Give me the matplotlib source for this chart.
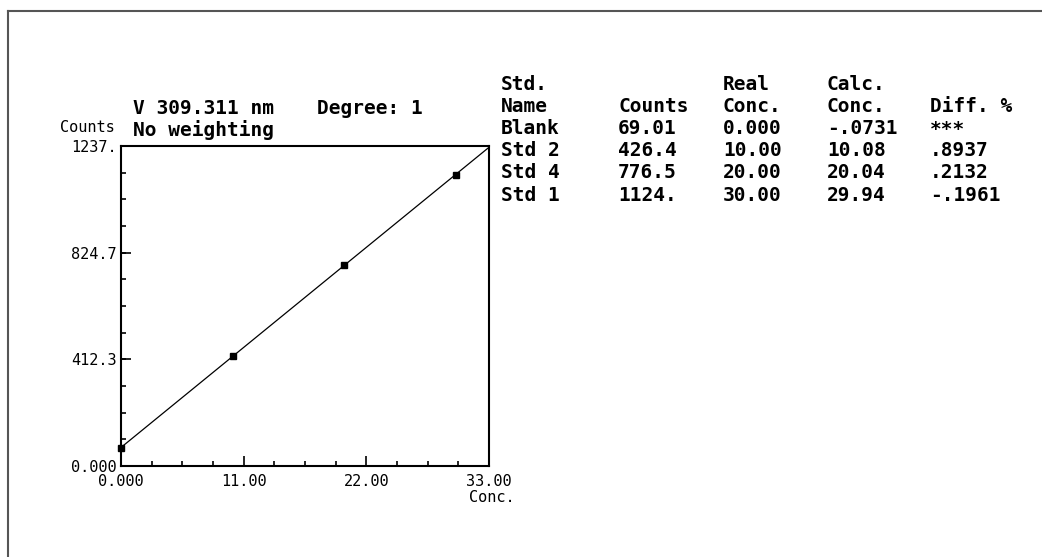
import matplotlib
matplotlib.use("Agg")
import matplotlib.pyplot as plt
from matplotlib.lines import Line2D
from matplotlib.ticker import MultipleLocator

# calibration standards
std_names = ["Blank", "Std 2", "Std 4", "Std 1"]
counts = [69.01, 426.4, 776.5, 1124.0]
real_conc = [0.0, 10.00, 20.00, 30.00]
calc_conc = [-0.0731, 10.08, 20.04, 29.94]
diff_pct = [None, 0.8937, 0.2132, -0.1961]

# fitted calibration line
fit_conc = [0.0, 33.0]
fit_counts = [71.6, 1232.0]

x_ticks = [0.0, 11.0, 22.0, 33.0]
y_ticks = [0.0, 412.3, 824.7, 1237.0]

W, H = 1042, 557
BIG = dict(family="DejaVu Sans Mono", fontweight="bold", fontsize=14)
SMALL = dict(family="DejaVu Sans Mono", fontsize=11)


def fmt4(v):
    """4 significant digits, instrument style"""
    if v is None:
        return "***"
    if v == 0:
        return "0.000"
    a = abs(v)
    if a >= 1000:
        s = f"{a:.0f}."
    elif a >= 100:
        s = f"{a:.1f}"
    elif a >= 10:
        s = f"{a:.2f}"
    elif a >= 1:
        s = f"{a:.3f}"
    else:
        s = f"{a:.4f}"[1:]
    return ("-" if v < 0 else "") + s


def px(x, y):
    return x / W, 1 - y / H


fig = plt.figure(figsize=(W / 100, H / 100), dpi=100)

# outer frame (top and left edge)
fig.add_artist(Line2D([8 / W, 8 / W], [0, 1 - 11 / H], transform=fig.transFigure,
                      color="#555555", lw=1.5))
fig.add_artist(Line2D([8 / W, 1], [1 - 11 / H, 1 - 11 / H], transform=fig.transFigure,
                      color="#555555", lw=1.5))

ax = fig.add_axes([121 / W, (H - 466) / H, 368 / W, 320 / H])
ax.plot(fit_conc, fit_counts, color="black", lw=0.9, clip_on=True)
ax.plot(real_conc, counts, "s", color="black", markersize=4.5, clip_on=False)

ax.set_xlim(x_ticks[0], x_ticks[-1])
ax.set_ylim(y_ticks[0], y_ticks[-1])
ax.set_xticks(x_ticks)
ax.set_xticklabels([fmt4(v) for v in x_ticks], **SMALL)
ax.set_yticks(y_ticks)
ax.set_yticklabels([fmt4(v) for v in y_ticks], **SMALL)
ax.xaxis.set_minor_locator(MultipleLocator(x_ticks[1] / 4))
ax.yaxis.set_minor_locator(MultipleLocator(y_ticks[-1] / 12))
ax.tick_params(axis="both", which="major", direction="in", length=7, width=1.2, color="black")
ax.tick_params(axis="both", which="minor", direction="in", length=3.5, width=1.2, color="black")
ax.tick_params(axis="x", which="major", pad=6)
ax.tick_params(axis="y", which="major", pad=3)
for sp in ax.spines.values():
    sp.set_linewidth(1.5)

# axis captions
fig.text(*px(115, 128), "Counts", ha="right", va="center", **SMALL)
fig.text(*px(469, 497), "Conc.", ha="left", va="center", **SMALL)

# plot header
fig.text(*px(133, 109), "V 309.311 nm", ha="left", va="center", **BIG)
fig.text(*px(317, 109), "Degree: 1", ha="left", va="center", **BIG)
fig.text(*px(133, 130), "No weighting", ha="left", va="center", **BIG)

# results table
col_x = [501, 618, 723, 827, 930]
header1 = ["Std.", "", "Real", "Calc.", ""]
header2 = ["Name", "Counts", "Conc.", "Conc.", "Diff. %"]
row_y = 85
for h1, h2, x in zip(header1, header2, col_x):
    fig.text(*px(x, row_y), h1, ha="left", va="center", **BIG)
    fig.text(*px(x, row_y + 22), h2, ha="left", va="center", **BIG)

for i, name in enumerate(std_names):
    y = row_y + 44 + 22 * i
    cells = [name, fmt4(counts[i]), fmt4(real_conc[i]), fmt4(calc_conc[i]), fmt4(diff_pct[i])]
    for txt, x in zip(cells, col_x):
        fig.text(*px(x, y), txt, ha="left", va="center", **BIG)

plt.savefig("out.png", dpi=100)
